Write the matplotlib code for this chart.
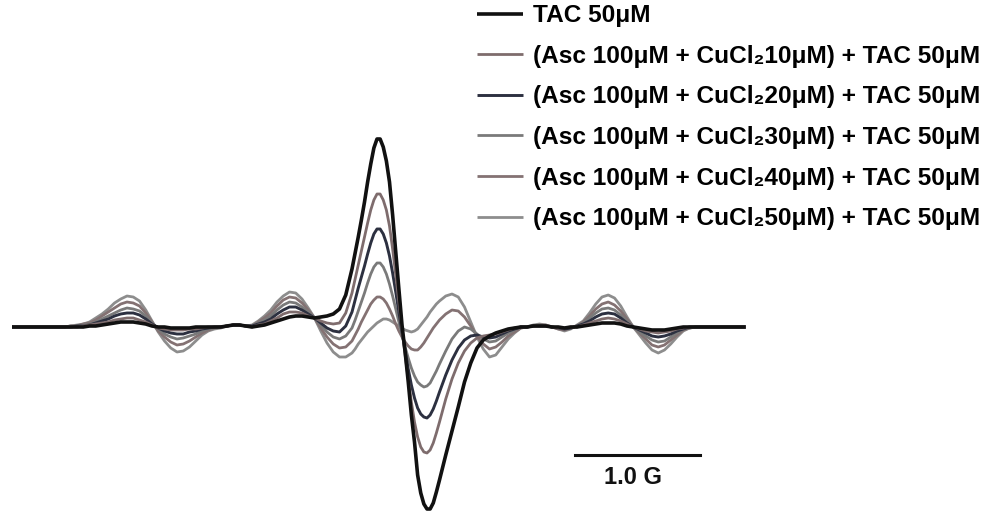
import numpy as np
import matplotlib
matplotlib.use("Agg")
import matplotlib.pyplot as plt

# =========================
# DATA (intensity in a.u.)
# =========================

field_G = [-3.12, -3.0, -2.9, -2.8,
           # 0.05 G steps
           -2.75, -2.7, -2.65, -2.6, -2.55, -2.5, -2.45, -2.4, -2.35, -2.3,
           -2.25, -2.2, -2.15, -2.1, -2.05, -2.0, -1.95, -1.9, -1.85, -1.8,
           -1.75, -1.7, -1.65, -1.6, -1.55, -1.5, -1.45, -1.4, -1.35, -1.3,
           -1.25, -1.2, -1.15, -1.1, -1.05, -1.0, -0.95, -0.9, -0.85, -0.8,
           -0.75, -0.7, -0.65, -0.6, -0.55, -0.5, -0.45, -0.4,
           # 0.025 G steps through the central line
           -0.375, -0.35, -0.325, -0.3, -0.275, -0.25, -0.225, -0.2, -0.175, -0.15,
           -0.125, -0.1, -0.075, -0.05, -0.025, 0.0, 0.025, 0.05, 0.075, 0.1,
           0.125, 0.15, 0.175, 0.2, 0.225, 0.25, 0.275, 0.3,
           # 0.05 G steps
           0.35, 0.4, 0.45, 0.5, 0.55, 0.6, 0.65, 0.7, 0.75, 0.8,
           0.85, 0.9, 0.95, 1.0, 1.05, 1.1, 1.15, 1.2, 1.25, 1.3,
           1.35, 1.4, 1.45, 1.5, 1.55, 1.6, 1.65, 1.7, 1.75, 1.8,
           1.85, 1.9, 1.95, 2.0, 2.05, 2.1, 2.15, 2.2, 2.25, 2.3,
           2.35,
           2.45, 2.6, 2.75]

tac_50 = [0, 0, 0, 0,
          0, 0, 0, 0, 0, 1, 1, 2, 3, 4, 5, 5, 5, 4, 3, 1,
          0, 0, -1, -1, -1, -1, 0, 0, 0, 0, 0,
          1, 2, 2, 1,
          0, 1, 2, 4, 6, 8, 10, 11, 11, 10, 9, 10, 11, 13, 18, 32, 58,
          74, 90, 107, 125, 145, 163, 179, 188, 188, 180,
          166, 145, 112, 75, 38, 2, -25, -55, -88, -115,
          -148, -166, -177, -182, -182, -176, -165, -153,
          -128, -104, -80, -55, -36, -21, -13, -9, -6, -4, -2, -1, 0,
          0, 1, 1, 1, 0, 0, -1, 0,
          0, 1, 2, 3, 4, 4, 4, 3, 1, 0, -1, -2, -3, -3, -3, -2, -1, 0, 0, 0,
          0, 0, 0]

cu_10 = [0, 0, 0, 0,
         0, 0, 0, 0, 1, 2, 3, 4, 5, 7, 8, 9, 9, 7, 5, 2,
         -1, -2, -3, -3, -3, -2, -2, -1, 0, 0, 0,
         1, 2, 2, 1,
         0, 2, 3, 6, 9, 13, 15, 15, 14, 11, 9, 6, 4, 3, 4, 14, 34,
         48, 62, 76, 90, 104, 117, 127, 133, 133, 127,
         117, 101, 78, 52, 25, -2, -28, -52, -75, -95,
         -110, -120, -125, -126, -123, -116, -106, -95,
         -72, -52, -36, -24, -16, -11, -9, -8, -7, -5, -3, -1, 0,
         0, 1, 1, 1, 0, -1, -1, 0,
         0, 2, 4, 6, 8, 9, 8, 6, 3, 0, -2, -4, -5, -6, -5, -4, -2, -1, 0, 0,
         0, 0, 0]

cu_20 = [0, 0, 0, 0,
         0, 0, 0, 1, 1, 2, 4, 6, 8, 11, 13, 14, 14, 12, 8, 3,
         -1, -4, -6, -7, -7, -5, -4, -2, -1, 0, 0,
         1, 2, 2, 1,
         1, 3, 5, 8, 13, 17, 20, 20, 17, 13, 9, 4, -1, -4, -5, 1, 15,
         27, 39, 50, 61, 73, 84, 93, 98, 98, 93,
         84, 71, 54, 35, 15, -5, -24, -42, -58, -71,
         -81, -87, -90, -91, -88, -82, -74, -65,
         -48, -33, -21, -13, -9, -8, -10, -11, -10, -7, -4, -2, 0,
         0, 1, 1, 1, 0, -1, -2, -1,
         1, 3, 6, 10, 13, 14, 13, 9, 4, 0, -3, -6, -9, -10, -9, -7, -4, -2, 0, 0,
         0, 0, 0]

cu_30 = [0, 0, 0, 0,
         0, 0, 1, 1, 2, 3, 5, 8, 11, 14, 17, 19, 18, 16, 11, 4,
         -2, -7, -10, -12, -11, -9, -7, -4, -2, -1, 0,
         1, 2, 2, 1,
         1, 4, 7, 11, 17, 22, 25, 24, 20, 15, 9, 2, -5, -10, -12, -9, -1,
         7, 16, 25, 34, 44, 53, 60, 64, 64, 60,
         53, 43, 31, 18, 5, -8, -20, -31, -41, -49,
         -55, -58, -60, -59, -56, -50, -44, -37,
         -24, -12, -4, 0, -2, -7, -12, -15, -14, -10, -6, -3, 0,
         0, 1, 2, 1, 0, -1, -2, -1,
         1, 4, 9, 14, 18, 19, 17, 12, 6, 0, -5, -9, -13, -15, -14, -10, -6, -2, -1, 0,
         0, 0, 0]

cu_40 = [0, 0, 0, 0,
         0, 0, 1, 1, 3, 4, 7, 11, 15, 19, 23, 25, 24, 21, 14, 5,
         -4, -10, -15, -18, -17, -14, -10, -6, -3, -1, 0,
         1, 2, 2, 1,
         1, 5, 9, 14, 21, 27, 30, 29, 24, 17, 9, -1, -10, -17, -21, -20, -14,
         -8, -2, 5, 11, 17, 23, 27, 30, 30, 28,
         24, 18, 11, 3, -4, -10, -15, -19, -22, -23,
         -23, -20, -16, -11, -6, -1, 3, 7,
         13, 17, 16, 10, 1, -9, -17, -22, -20, -15, -9, -5, -1,
         0, 1, 2, 2, 0, -2, -3, -1,
         1, 5, 11, 18, 23, 25, 22, 16, 8, 0, -6, -12, -18, -20, -18, -13, -8, -3, -1, 0,
         0, 0, 0]

cu_50 = [0, 0, 0, 0,
         0, 0, 1, 2, 3, 5, 9, 13, 18, 24, 28, 31, 30, 26, 17, 6,
         -5, -14, -21, -25, -24, -20, -14, -8, -4, -2, -1,
         1, 2, 2, 1,
         2, 6, 11, 17, 25, 31, 35, 34, 28, 19, 9, -4, -16, -25, -30, -30, -26,
         -22, -17, -13, -9, -5, -2, 1, 4, 6, 8,
         8, 7, 5, 3, 1, -1, -3, -4, -5, -4,
         -2, 2, 6, 10, 15, 19, 23, 26,
         31, 33, 30, 20, 5, -10, -22, -30, -28, -20, -12, -6, -1,
         0, 2, 3, 2, 0, -2, -4, -2,
         2, 6, 14, 23, 30, 32, 29, 21, 10, 0, -8, -16, -23, -26, -23, -17, -10, -4, -1, 0,
         0, 0, 0]

labels = ["TAC 50\u03bcM",
          "(Asc 100\u03bcM + CuCl\u208210\u03bcM) + TAC 50\u03bcM",
          "(Asc 100\u03bcM + CuCl\u208220\u03bcM) + TAC 50\u03bcM",
          "(Asc 100\u03bcM + CuCl\u208230\u03bcM) + TAC 50\u03bcM",
          "(Asc 100\u03bcM + CuCl\u208240\u03bcM) + TAC 50\u03bcM",
          "(Asc 100\u03bcM + CuCl\u208250\u03bcM) + TAC 50\u03bcM"]

series = [tac_50, cu_10, cu_20, cu_30, cu_40, cu_50]

colors = ["#111111", "#7e6c6d", "#2c3040", "#7a7a7a", "#847273", "#8d8d8d"]
widths = [2.6, 2.0, 2.1, 2.0, 2.0, 2.0]

# =========================
# PLOT
# =========================

plt.rcParams['font.family'] = ['Liberation Sans', 'DejaVu Sans']

fig = plt.figure(figsize=(10, 5.23), dpi=100)
ax = fig.add_axes([0, 0, 1, 1])

for i, (ys, lab) in enumerate(zip(series, labels)):
    ax.plot(field_G, ys, color=colors[i], lw=widths[i], label=lab,
            zorder=10 - i, solid_joinstyle="round", solid_capstyle="butt")

ax.set_xlim(-3.216, 4.784)
ax.set_ylim(-196, 327)
ax.axis("off")

# scale bar 1.0 G
bar_start = 1.384
ax.plot([bar_start, bar_start + 1.0], [-128, -128], color="#111111", lw=2.2)
ax.text(bar_start + 0.46, -139, "1.0 G", ha="center", va="top",
        fontsize=17, fontweight="bold", color="#111111")

leg = ax.legend(loc="upper left", bbox_to_anchor=(0.477, 0.992),
                frameon=False, borderpad=0, borderaxespad=0,
                handlelength=1.9, handletextpad=0.4, labelspacing=0.72,
                prop={"size": 17.6, "weight": "bold"})

fig.savefig("out.png", dpi=100)
